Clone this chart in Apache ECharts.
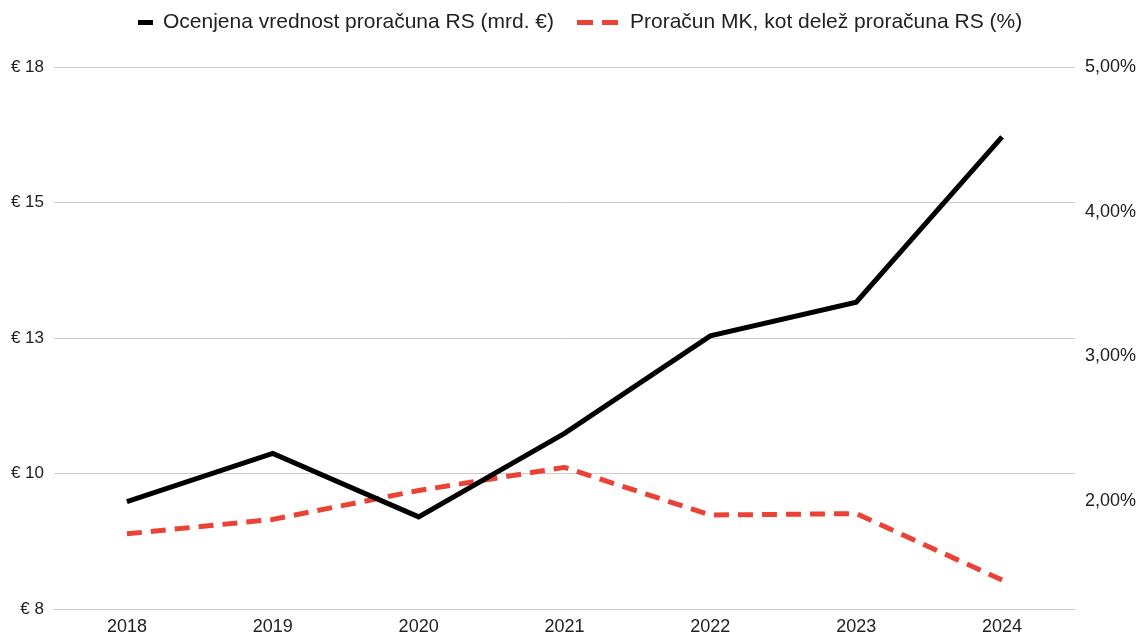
<!DOCTYPE html>
<html>
<head>
<meta charset="utf-8">
<script src="https://cdn.jsdelivr.net/npm/echarts@6/dist/echarts.min.js"></script>
<style>
html,body{margin:0;padding:0;background:#fff;}
#chart{width:1140px;height:636px;}
</style>
</head>
<body>
<div id="chart"></div>
<script>
const years = ['2018','2019','2020','2021','2022','2023','2024'];
const budgetRS = [9.48, 10.37, 9.20, 10.74, 12.54, 13.16, 16.21];
const shareMK = [1.77, 1.87, 2.07, 2.23, 1.90, 1.91, 1.45];
const rightTickValues = [2, 3, 4, 5];
const seriesNames = ['Ocenjena vrednost proračuna RS (mrd. €)', 'Proračun MK, kot delež proračuna RS (%)'];

const font = 'Arial, "Liberation Sans", sans-serif';
const chart = echarts.init(document.getElementById('chart'));
chart.setOption({
  animation: false,
  backgroundColor: '#fff',
  grid: { left: 54, right: 65, top: 67, bottom: 25, containLabel: false },
  legend: [
    {
      data: [seriesNames[0]],
      left: 133, top: 7,
      icon: 'rect',
      itemWidth: 15, itemHeight: 5,
      textStyle: { fontFamily: font, fontSize: 21, color: '#222', padding: [0, 0, 0, 5] }
    },
    {
      data: [seriesNames[1]],
      left: 572, top: 7,
      icon: 'path://M0,0H16V5H0Z M25,0H41V5H25Z',
      itemWidth: 41, itemHeight: 5,
      textStyle: { fontFamily: font, fontSize: 21, color: '#222', padding: [0, 0, 0, 7] }
    }
  ],
  xAxis: {
    type: 'category',
    data: years,
    boundaryGap: true,
    axisLine: { show: true, lineStyle: { color: '#cccccc', width: 1 } },
    axisTick: { show: false },
    axisLabel: { fontFamily: font, fontSize: 18, color: '#222', margin: 9 }
  },
  yAxis: [
    {
      type: 'value',
      min: 7.5, max: 17.5, interval: 2.5,
      axisLine: { show: false },
      axisTick: { show: false },
      splitLine: { lineStyle: { color: '#cccccc', width: 1 } },
      axisLabel: {
        fontFamily: font, fontSize: 17, color: '#222', margin: 10,
        formatter: v => '€ ' + Math.round(v)
      }
    },
    {
      type: 'value',
      min: 1.25, max: 5,
      axisLine: { show: false },
      axisTick: { show: false },
      splitLine: { show: false },
      axisLabel: {
        fontFamily: font, fontSize: 18, color: '#222', margin: 10,
        customValues: rightTickValues,
        formatter: v => v.toFixed(2).replace('.', ',') + '%'
      }
    }
  ],
  series: [
    {
      name: seriesNames[0],
      type: 'line',
      yAxisIndex: 0,
      data: budgetRS,
      symbol: 'none',
      lineStyle: { color: '#000', width: 5, join: 'miter' },
      itemStyle: { color: '#000' },
      z: 3
    },
    {
      name: seriesNames[1],
      type: 'line',
      yAxisIndex: 1,
      data: shareMK,
      symbol: 'none',
      lineStyle: { color: '#ea4335', width: 5, type: [15, 9] },
      itemStyle: { color: '#ea4335' },
      z: 2
    }
  ]
});
</script>
</body>
</html>
